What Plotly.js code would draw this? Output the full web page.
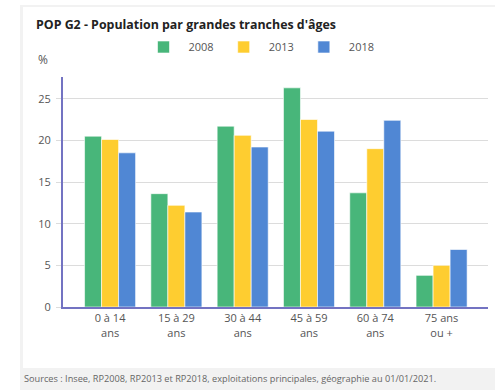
<!DOCTYPE html>
<html>
<head>
<meta charset="utf-8">
<script src="https://cdn.plot.ly/plotly-3.0.1.min.js"></script>
<style>
  html, body { margin: 0; padding: 0; background: #ffffff; }
  #wrap { position: relative; width: 495px; height: 390px; overflow: hidden; background: #ffffff; }
  #grey { position: absolute; left: 20px; top: 5px; width: 475px; height: 385px; background: #f2f2f2; }
  #card { position: absolute; left: 23px; top: 7px; width: 472px; height: 361px; background: #ffffff; }
  #chart { position: absolute; left: 0; top: 0; width: 495px; height: 390px; }
</style>
</head>
<body>
<div id="wrap">
  <div id="grey"></div>
  <div id="card"></div>
  <div id="chart"></div>
</div>
<script>
const categories = ["0 à 14<br>ans", "15 à 29<br>ans", "30 à 44<br>ans", "45 à 59<br>ans", "60 à 74<br>ans", "75 ans<br>ou +"];
const values2008 = [20.5, 13.6, 21.7, 26.3, 13.7, 3.8];
const values2013 = [20.1, 12.2, 20.6, 22.5, 19.0, 5.0];
const values2018 = [18.5, 11.4, 19.2, 21.1, 22.4, 6.9];
const seriesNames = ["2008", "2013", "2018"];
const yTicks = [0, 5, 10, 15, 20, 25];

const colors = ["#48b67a", "#fecd30", "#5087d4"];
const allValues = [values2008, values2013, values2018];

const traces = allValues.map((vals, i) => ({
  type: "bar",
  name: seriesNames[i],
  x: categories,
  y: vals,
  marker: { color: colors[i], line: { color: "rgba(255,255,255,0.6)", width: 1 } },
  hoverinfo: "skip"
}));

const layout = {
  width: 495,
  height: 390,
  paper_bgcolor: "rgba(0,0,0,0)",
  plot_bgcolor: "rgba(0,0,0,0)",
  font: { family: "Open Sans, sans-serif", size: 11, color: "#555555" },
  margin: { l: 63, r: 7, t: 77, b: 83, pad: 0 },
  barmode: "group",
  bargap: 0.23,
  bargroupgap: 0,
  title: {
    text: "<b>POP G2 - Population par grandes tranches d'âges</b>",
    xref: "container", yref: "container",
    x: 36 / 495, xanchor: "left",
    y: 1 - 25 / 390, yanchor: "middle",
    font: { family: "Open Sans, sans-serif", size: 12.4, color: "#222222" }
  },
  showlegend: true,
  legend: {
    orientation: "h",
    xref: "container", yref: "container",
    x: 259 / 495, xanchor: "center",
    y: 1 - 47 / 390, yanchor: "middle",
    font: { size: 11, color: "#555555" },
    itemwidth: 40,
    traceorder: "normal"
  },
  xaxis: {
    type: "category",
    range: [-0.71, 5.70],
    showgrid: false,
    showline: true,
    linecolor: "#7373c2",
    linewidth: 2,
    ticks: "",
    tickfont: { size: 11, color: "#555555" },
    fixedrange: true
  },
  yaxis: {
    range: [0, 27.6],
    tickvals: yTicks,
    ticktext: yTicks.map(String),
    showgrid: true,
    gridcolor: "#dcdcdc",
    gridwidth: 1,
    zeroline: false,
    showline: true,
    linecolor: "#7373c2",
    linewidth: 2,
    ticks: "outside",
    ticklen: 5,
    tickcolor: "#dcdcdc",
    ticklabelstandoff: 3,
    tickfont: { size: 11, color: "#555555" },
    fixedrange: true
  },
  annotations: [
    {
      text: "%",
      xref: "paper", yref: "paper",
      x: -27 / 425, xanchor: "left",
      y: 1 + 7 / 230, yanchor: "bottom",
      showarrow: false,
      font: { size: 12, color: "#555555" }
    },
    {
      text: "Sources : Insee, RP2008, RP2013 et RP2018, exploitations principales, géographie au 01/01/2021.",
      xref: "paper", yref: "paper",
      x: -41 / 425, xanchor: "left",
      y: -(378 - 307) / 230, yanchor: "middle",
      showarrow: false,
      font: { size: 9.2, color: "#666666" }
    }
  ]
};

Plotly.newPlot("chart", traces, layout, { displayModeBar: false, staticPlot: true });
</script>
</body>
</html>
